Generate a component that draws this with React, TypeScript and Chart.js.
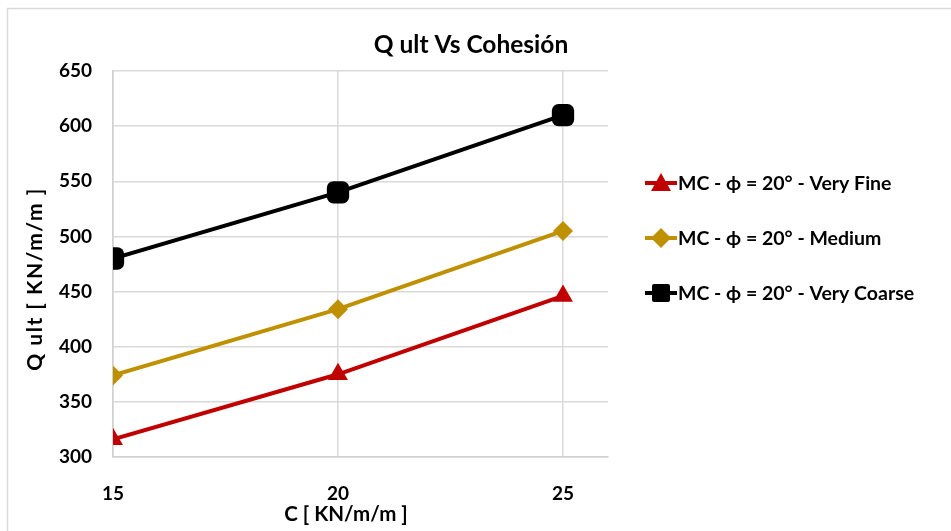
import React, { useEffect, useRef } from "react";
import { Chart, registerables } from "chart.js";

Chart.register(...registerables);

const cohesion = [15, 20, 25];
const veryFine = [316, 375, 446];
const medium = [374, 434, 505];
const veryCoarse = [480, 540, 610];
const seriesLabels = [
  "MC - ϕ = 20° - Very Fine",
  "MC - ϕ = 20° - Medium",
  "MC - ϕ = 20° - Very Coarse",
];
const seriesColors = ["#C00000", "#BF9000", "#000000"];
const seriesStyles = ["triangle", "rectRot", "rectRounded"];
const chartTitle = "Q ult Vs Cohesión";
const xTitle = "C [ KN/m/m ]";
const yTitle = "Q ult [ KN/m/m ]";

const FONT = "Lato, 'Open Sans', sans-serif";

function drawMarker(ctx: CanvasRenderingContext2D, style: string, x: number, y: number, color: string) {
  ctx.save();
  ctx.fillStyle = color;
  ctx.beginPath();
  if (style === "triangle") {
    ctx.moveTo(x, y - 10);
    ctx.lineTo(x + 10, y + 8);
    ctx.lineTo(x - 10, y + 8);
    ctx.closePath();
  } else if (style === "rectRot") {
    ctx.moveTo(x, y - 10);
    ctx.lineTo(x + 10, y);
    ctx.lineTo(x, y + 10);
    ctx.lineTo(x - 10, y);
    ctx.closePath();
  } else {
    const s = 9;
    const r = 2;
    ctx.moveTo(x - s + r, y - s);
    ctx.arcTo(x + s, y - s, x + s, y + s, r);
    ctx.arcTo(x + s, y + s, x - s, y + s, r);
    ctx.arcTo(x - s, y + s, x - s, y - s, r);
    ctx.arcTo(x - s, y - s, x + s, y - s, r);
    ctx.closePath();
  }
  ctx.fill();
  ctx.restore();
}

const decorPlugin = {
  id: "decor",
  beforeDraw(chart: any) {
    const ctx = chart.ctx as CanvasRenderingContext2D;
    ctx.save();
    ctx.strokeStyle = "#d9d9d9";
    ctx.lineWidth = 1.5;
    ctx.beginPath();
    ctx.moveTo(7.5, 531);
    ctx.lineTo(7.5, 8.5);
    ctx.lineTo(951, 8.5);
    ctx.stroke();
    ctx.restore();
  },
  afterDraw(chart: any) {
    const ctx = chart.ctx as CanvasRenderingContext2D;
    ctx.save();
    ctx.fillStyle = "#000";
    ctx.textAlign = "center";
    ctx.textBaseline = "middle";
    ctx.font = `bold 24.5px ${FONT}`;
    ctx.fillText(chartTitle, 471, 45);
    ctx.font = `bold 20.5px ${FONT}`;
    ctx.fillText(xTitle, 346, 514);
    ctx.save();
    ctx.translate(35, 279);
    ctx.rotate(-Math.PI / 2);
    ctx.font = `bold 21px ${FONT}`;
    (ctx as any).letterSpacing = "1.5px";
    ctx.fillText(yTitle, 0, 0);
    ctx.restore();

    // legend
    const rows = [183, 238, 293];
    chart.data.datasets.forEach((ds: any, i: number) => {
      const y = rows[i];
      ctx.strokeStyle = seriesColors[i];
      ctx.lineWidth = 4;
      ctx.beginPath();
      ctx.moveTo(645, y);
      ctx.lineTo(677, y);
      ctx.stroke();
      drawMarker(ctx, seriesStyles[i], 661, y, seriesColors[i]);
      ctx.fillStyle = "#000";
      ctx.textAlign = "left";
      ctx.font = `bold 19.5px ${FONT}`;
      ctx.fillText(ds.label, 678, y + 1);
    });
    ctx.restore();
  },
};

export default function App() {
  const ref = useRef<HTMLCanvasElement | null>(null);
  useEffect(() => {
    if (!ref.current) return;
    const values = [veryFine, medium, veryCoarse];
    const radii = [11.5, 10, 13];
    const chart = new Chart(ref.current, {
      type: "line",
      data: {
        datasets: values.map((arr, i) => ({
          label: seriesLabels[i],
          data: arr.map((v, j) => ({ x: cohesion[j], y: v })),
          borderColor: seriesColors[i],
          backgroundColor: seriesColors[i],
          borderWidth: 4,
          pointStyle: seriesStyles[i] as any,
          pointRadius: radii[i],
          pointBorderWidth: 0,
          pointBackgroundColor: seriesColors[i],
          tension: 0,
        })),
      },
      options: {
        animation: false,
        responsive: false,
        maintainAspectRatio: false,
        layout: { padding: { left: 0, right: 343, top: 71, bottom: 14 } },
        plugins: {
          legend: { display: false },
          title: { display: false },
          tooltip: { enabled: false },
        },
        scales: {
          x: {
            type: "linear",
            min: 15,
            max: 26,
            afterFit: (s: any) => {
              s.height = 60;
            },
            ticks: {
              stepSize: 5,
              includeBounds: false,
              autoSkip: false,
              maxRotation: 0,
              padding: 25,
              color: "#000",
              font: { family: FONT, size: 19, weight: "bold" },
            },
            grid: { color: "#d9d9d9", lineWidth: 1.5, drawTicks: false },
            border: { color: "#d0d0d0", width: 1.5 },
          },
          y: {
            min: 300,
            max: 650,
            afterFit: (s: any) => {
              s.width = 113;
            },
            ticks: {
              stepSize: 50,
              padding: 21,
              color: "#000",
              font: { family: FONT, size: 19, weight: "bold" },
            },
            grid: { color: "#d9d9d9", lineWidth: 1.5, drawTicks: false },
            border: { color: "#d0d0d0", width: 1.5 },
          },
        },
      },
      plugins: [decorPlugin],
    });
    return () => chart.destroy();
  }, []);
  return (
    <div style={{ position: "fixed", left: 0, top: 0, width: 951, height: 531, background: "#fff" }}>
      <canvas ref={ref} width={951} height={531} style={{ width: 951, height: 531, display: "block" }} />
    </div>
  );
}
